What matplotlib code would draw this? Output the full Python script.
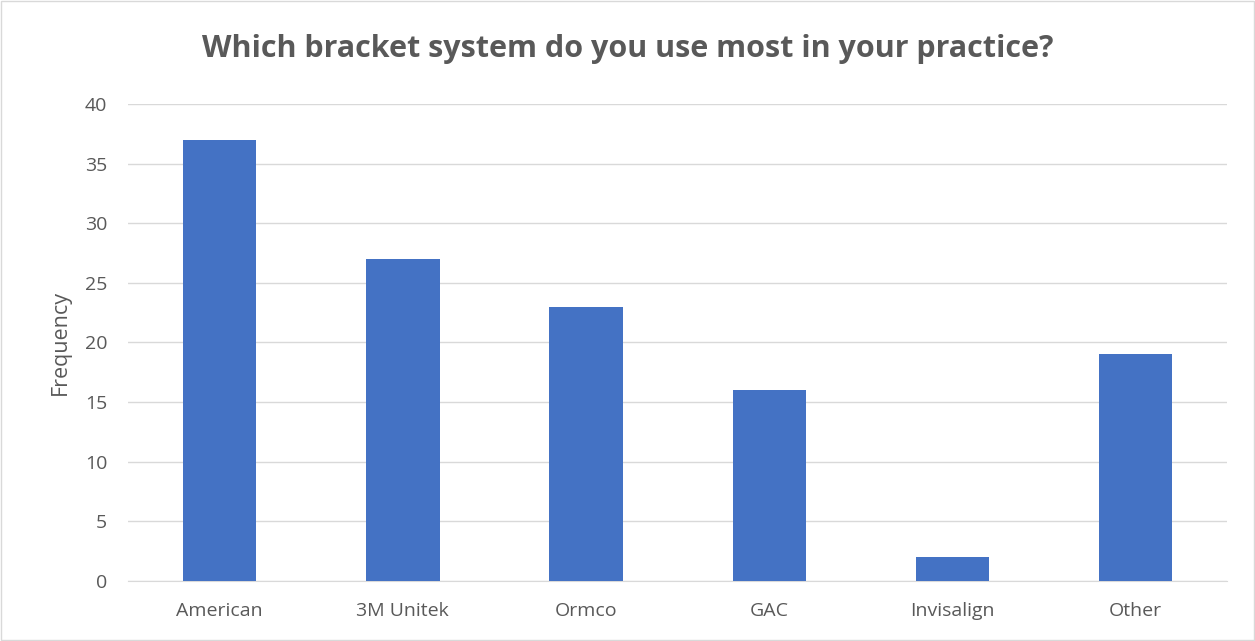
import matplotlib
matplotlib.use("Agg")
import matplotlib.pyplot as plt
from matplotlib.patches import Rectangle

categories = ["American", "3M Unitek", "Ormco", "GAC", "Invisalign", "Other"]
frequency = [37, 27, 23, 16, 2, 19]
yticks = [0, 5, 10, 15, 20, 25, 30, 35, 40]

plt.rcParams['font.family'] = ['Open Sans', 'DejaVu Sans']
text_color = "#595959"

fig = plt.figure(figsize=(12.55, 6.41), dpi=100)
ax = fig.add_axes([0.102, 0.0936, 0.876, 0.7442])

x = range(len(categories))
ax.bar(x, frequency, width=0.4, color="#4472C4", zorder=3)

ax.set_xlim(-0.5, len(categories) - 0.5)
ax.set_ylim(0, 40)
ax.set_yticks(yticks)
ax.set_xticks(list(x))
ax.set_xticklabels(categories)
ax.grid(axis="y", color="#D9D9D9", linewidth=1, zorder=0)
for side in ["top", "right", "left"]:
    ax.spines[side].set_visible(False)
ax.spines["bottom"].set_color("#D9D9D9")
ax.tick_params(axis="both", length=0, labelsize=14, colors=text_color, pad=15)
ax.set_ylabel("Frequency", fontsize=15.5, color=text_color, labelpad=10)

fig.text(0.5, 0.923, "Which bracket system do you use most in your practice?",
         ha="center", va="center", fontsize=22, fontweight="bold", color=text_color)

fig.patches.append(Rectangle((0.001, 0.001), 0.998, 0.998, transform=fig.transFigure,
                             fill=False, edgecolor="#D9D9D9", linewidth=1))

fig.savefig("out.png", dpi=100)
